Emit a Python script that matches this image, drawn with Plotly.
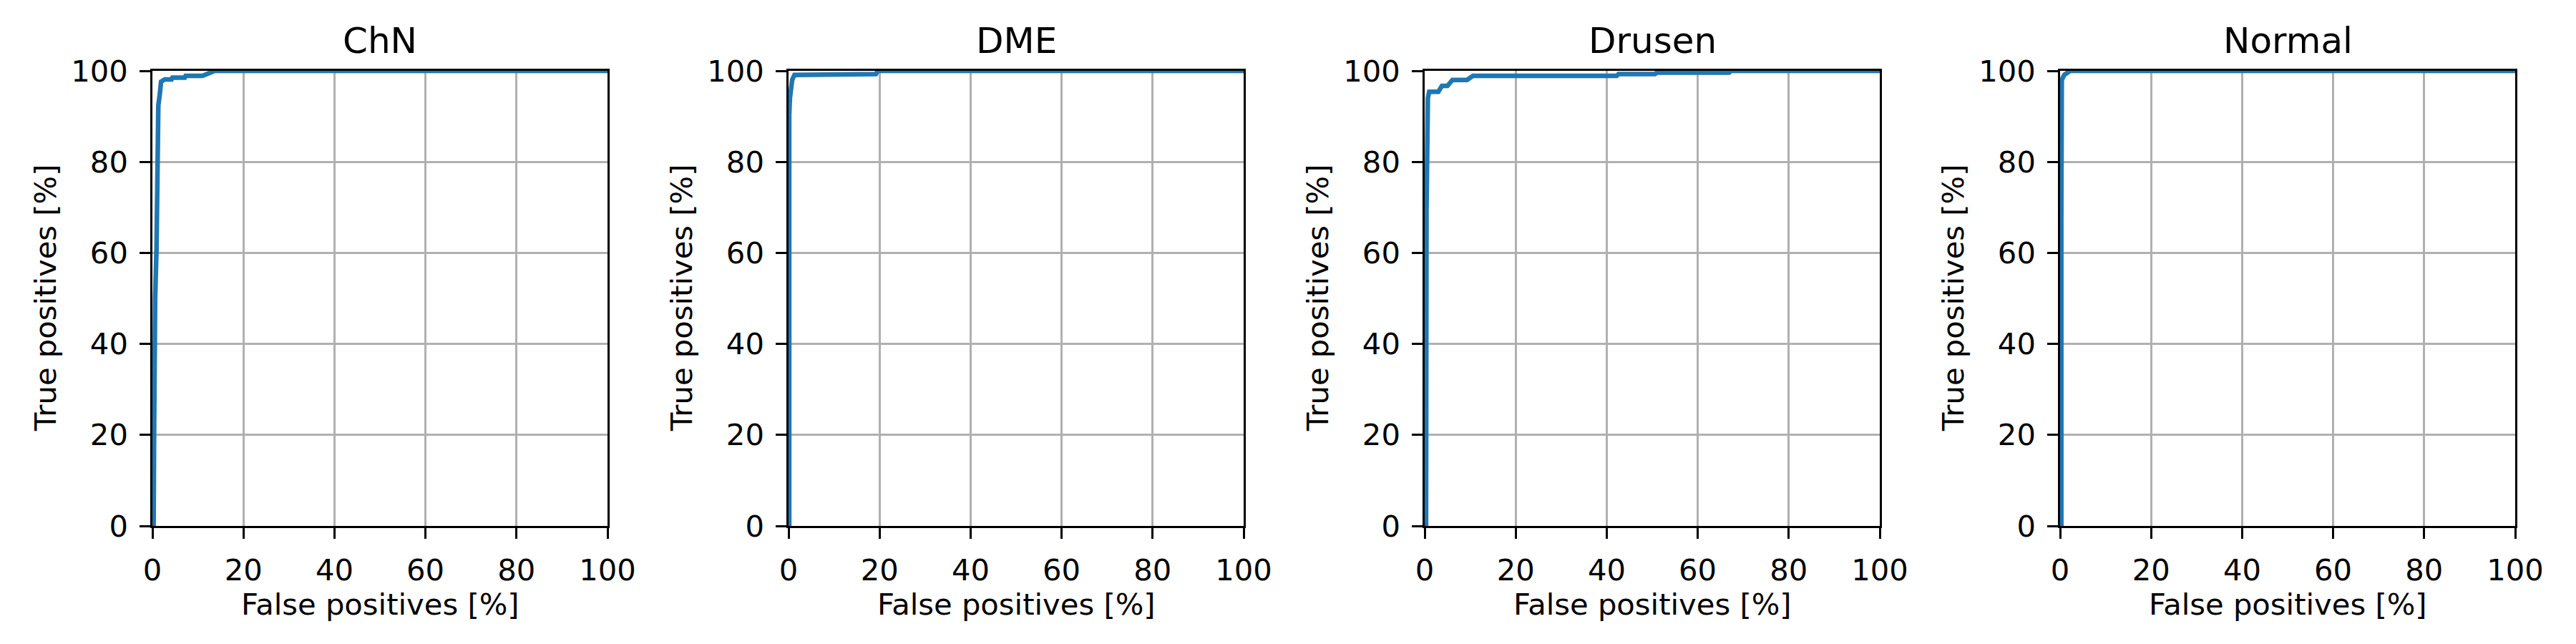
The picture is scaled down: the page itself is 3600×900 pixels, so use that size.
import plotly.graph_objects as go

titles = ["ChN", "DME", "Drusen", "Normal"]

chn_fpr = [0.0, 0.26, 0.37, 0.5, 0.6, 0.9, 1.15, 1.3, 1.6, 1.9, 2.7, 4.2, 4.4, 7.1, 7.3, 11.0, 13.7, 100.0]
chn_tpr = [0.0, 0.0, 20.2, 39.8, 50.0, 60.9, 79.8, 92.4, 94.7, 97.6, 98.1, 98.1, 98.5, 98.5, 98.9, 98.9, 100.0, 100.0]

dme_fpr = [0.0, 0.15, 0.15, 0.3, 0.8, 1.3, 19.2, 19.6, 100.0]
dme_tpr = [0.0, 0.0, 90.3, 94.0, 98.0, 99.1, 99.3, 100.0, 100.0]

drusen_fpr = [0.0, 0.3, 0.4, 0.5, 0.7, 1.0, 3.0, 3.8, 5.0, 6.1, 9.3, 10.6, 42.2, 42.6, 50.6, 51.0, 66.9, 67.3, 100.0]
drusen_tpr = [0.0, 0.0, 69.3, 90.3, 94.0, 95.4, 95.4, 96.7, 96.7, 98.0, 98.0, 98.9, 98.9, 99.3, 99.3, 99.6, 99.6, 100.0, 100.0]

normal_fpr = [0.0, 0.27, 0.27, 0.37, 0.9, 2.2, 100.0]
normal_tpr = [0.0, 0.0, 67.9, 98.0, 99.1, 100.0, 100.0]

curves = [(chn_fpr, chn_tpr), (dme_fpr, dme_tpr), (drusen_fpr, drusen_tpr), (normal_fpr, normal_tpr)]
tick_vals = [0, 20, 40, 60, 80, 100]
tick_text = ["0", "20", "40", "60", "80", "100"]

W, H = 3600, 900
OFF = 8  # page body margin
left_px = [213, 1102, 1991, 2879]
plot_w = 636
top_px, bot_px = 99, 735


def px(p):
    return (p - OFF) / W


def py(p):
    return 1 - (p - OFF) / H


FONT = "DejaVu Sans"
fig = go.Figure()
layout = dict(
    width=W, height=H, margin=dict(l=0, r=0, t=0, b=0, pad=0, autoexpand=False),
    autosize=False,
    paper_bgcolor="white", plot_bgcolor="white", showlegend=False,
    font=dict(family=FONT, size=41.7, color="black"),
)
annotations = []
for i, (fx, ty) in enumerate(curves):
    n = "" if i == 0 else str(i + 1)
    fig.add_trace(go.Scatter(x=fx, y=ty, mode="lines",
                             line=dict(color="#1f77b4", width=6.5),
                             xaxis="x" + n, yaxis="y" + n, hoverinfo="skip"))
    common = dict(range=[0, 100], tickvals=tick_vals, ticktext=tick_text,
                  ticks="outside", ticklen=14.6, tickwidth=3.3, tickcolor="black",
                  showline=True, linecolor="black", linewidth=3.3, mirror=True,
                  showgrid=True, gridcolor="#b0b0b0", gridwidth=3.3,
                  zeroline=False, tickfont=dict(family=FONT, size=41.7, color="black"),
                  ticklabelstandoff=8, fixedrange=True, automargin=False)
    layout["xaxis" + n] = dict(common, domain=[px(left_px[i]), px(left_px[i] + plot_w)], anchor="y" + n)
    layout["yaxis" + n] = dict(common, domain=[py(bot_px), py(top_px)], anchor="x" + n)
    cx = px(left_px[i] + plot_w / 2)
    annotations.append(dict(text=titles[i], x=cx, y=py(57), xref="paper", yref="paper",
                            xanchor="center", yanchor="middle", showarrow=False,
                            font=dict(family=FONT, size=50, color="black")))
    annotations.append(dict(text="False positives [%]", x=cx, y=py(844), xref="paper", yref="paper",
                            xanchor="center", yanchor="middle", showarrow=False,
                            font=dict(family=FONT, size=41.7, color="black")))
    annotations.append(dict(text="True positives [%]", x=px(left_px[i] - 150), y=py(417),
                            xref="paper", yref="paper", xanchor="center", yanchor="middle",
                            showarrow=False, textangle=-90,
                            font=dict(family=FONT, size=41.7, color="black")))
layout["annotations"] = annotations
fig.update_layout(**layout)
fig.write_html("out.html", config={"responsive": False})
